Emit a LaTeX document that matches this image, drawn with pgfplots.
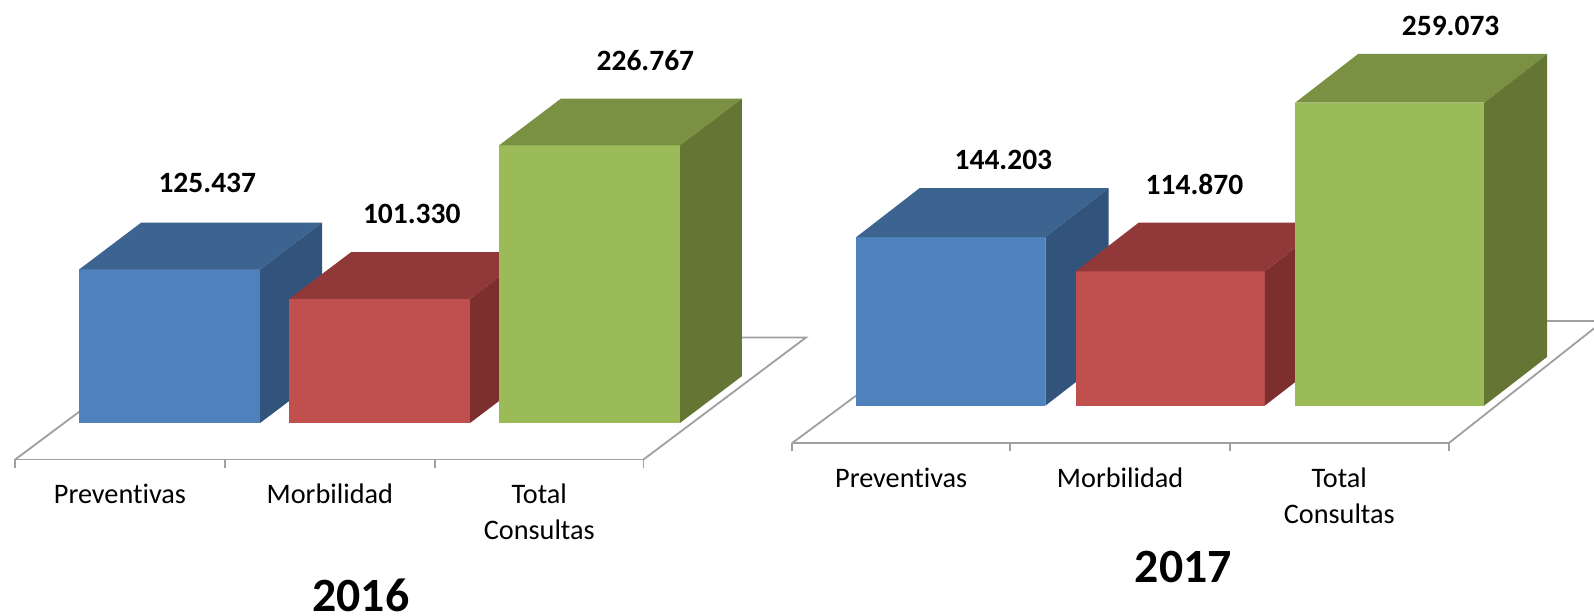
\documentclass[border=0pt]{standalone}
\usepackage{fontspec}
\setmainfont{Carlito}[Ligatures=NoCommon]
\usepackage{pgfplots}
\pgfplotsset{compat=1.18}

\definecolor{bluefront}{HTML}{4F81BD}
\definecolor{bluetop}{HTML}{3D6390}
\definecolor{blueside}{HTML}{31537C}
\definecolor{redfront}{HTML}{C0504D}
\definecolor{redtop}{HTML}{903938}
\definecolor{redside}{HTML}{7D2F2E}
\definecolor{greenfront}{HTML}{9BBB59}
\definecolor{greentop}{HTML}{7A9144}
\definecolor{greenside}{HTML}{647534}
\definecolor{floorline}{HTML}{A0A0A0}

\pgfplotsset{
    barchart/.style={
        scale only axis,
        clip=false,
        axis x line*=bottom,
        axis y line=none,
        axis line style={floorline, line width=0.9pt, -},
        x tick label as interval,
        xticklabels={Preventivas,Morbilidad,{Total\\Consultas}},
        xticklabel style={align=center, font=\fontsize{13.9}{17.5}\selectfont, yshift=-4.7pt},
        major tick length=4pt,
        tick align=outside,
        tick style={floorline, line width=0.9pt},
        ytick=\empty,
        xlabel style={font=\bfseries\fontsize{23.5}{26}\selectfont, anchor=center, inner sep=0pt},
    },
    front/.style={ybar, bar width=0.862, bar shift=0pt, fill=#1, draw=none},
    face/.style={fill=#1, draw=none},
    floor/.style={floorline, line width=0.9pt},
    vals/.style={
        draw=none, mark=none,
        point meta=explicit symbolic,
        nodes near coords,
        every node near coord/.style={anchor=center, inner sep=0pt,
            font=\bfseries\fontsize{14.5}{16}\selectfont},
    },
}

\begin{document}
\begin{tikzpicture}
\path[use as bounding box] (0,0) rectangle (784pt,302.5pt);

% 2016
\begin{axis}[barchart,
    at={(7.5pt,76.5pt)}, anchor=south west,
    width=309pt, height=226pt,
    xmin=-0.736, xmax=2.257,
    ymin=-29900, ymax=345515,
    xtick={-0.736,0.2615,1.264,2.257},
    xlabel={2016},
    xlabel style={at={(axis description cs:0.55,-0.2955)}},
]
\addplot[floor] coordinates {(-0.736,-29900) (-0.431,9136)};
\addplot[floor] coordinates {(2.257,-29900) (3.031,69767) (2.726,69767)};

\addplot[front=bluefront] coordinates {(0,125437)};
\addplot[face=bluetop] coordinates {(-0.431,125437) (-0.136,163643) (0.726,163643) (0.431,125437)};
\addplot[face=blueside] coordinates {(0.431,0) (0.726,38206) (0.726,163643) (0.431,125437)};

\addplot[front=redfront] coordinates {(1,101330)};
\addplot[face=redtop] coordinates {(0.569,101330) (0.864,139536) (1.726,139536) (1.431,101330)};
\addplot[face=redside] coordinates {(1.431,0) (1.726,38206) (1.726,139536) (1.431,101330)};

\addplot[front=greenfront] coordinates {(2,226767)};
\addplot[face=greentop] coordinates {(1.569,226767) (1.864,264973) (2.726,264973) (2.431,226767)};
\addplot[face=greenside] coordinates {(2.431,0) (2.726,38206) (2.726,264973) (2.431,226767)};

\addplot[vals] coordinates {(0.179,196013)[125.437] (1.153,171096)[101.330] (2.266,295680)[226.767]};
\end{axis}

% 2017
\begin{axis}[barchart,
    at={(389.5pt,84.5pt)}, anchor=south west,
    width=323pt, height=218pt,
    xmin=-0.725, xmax=2.269,
    ymin=-32174, ymax=346957,
    xtick={-0.725,0.271,1.272,2.269},
    xlabel={2017},
    xlabel style={at={(axis description cs:0.596,-0.28)}},
]
\addplot[floor] coordinates {(-0.725,-32174) (-0.431,8696)};
\addplot[floor] coordinates {(2.269,-32174) (2.932,66087)};
\addplot[floor] coordinates {(2.932,72174) (2.718,72174)};

\addplot[front=bluefront] coordinates {(0,144203)};
\addplot[face=bluetop] coordinates {(-0.431,144203) (-0.1436,185942) (0.7184,185942) (0.431,144203)};
\addplot[face=blueside] coordinates {(0.431,0) (0.7184,41739) (0.7184,185942) (0.431,144203)};

\addplot[front=redfront] coordinates {(1,114870)};
\addplot[face=redtop] coordinates {(0.569,114870) (0.8564,156609) (1.7184,156609) (1.431,114870)};
\addplot[face=redside] coordinates {(1.431,0) (1.7184,41739) (1.7184,156609) (1.431,114870)};

\addplot[front=greenfront] coordinates {(2,259073)};
\addplot[face=greentop] coordinates {(1.569,259073) (1.8564,300812) (2.7184,300812) (2.431,259073)};
\addplot[face=greenside] coordinates {(2.431,0) (2.7184,41739) (2.7184,300812) (2.431,259073)};

\addplot[vals] coordinates {(0.239,210435)[144.203] (1.110,189565)[114.870] (2.278,324400)[259.073]};
\end{axis}
\end{tikzpicture}
\end{document}
